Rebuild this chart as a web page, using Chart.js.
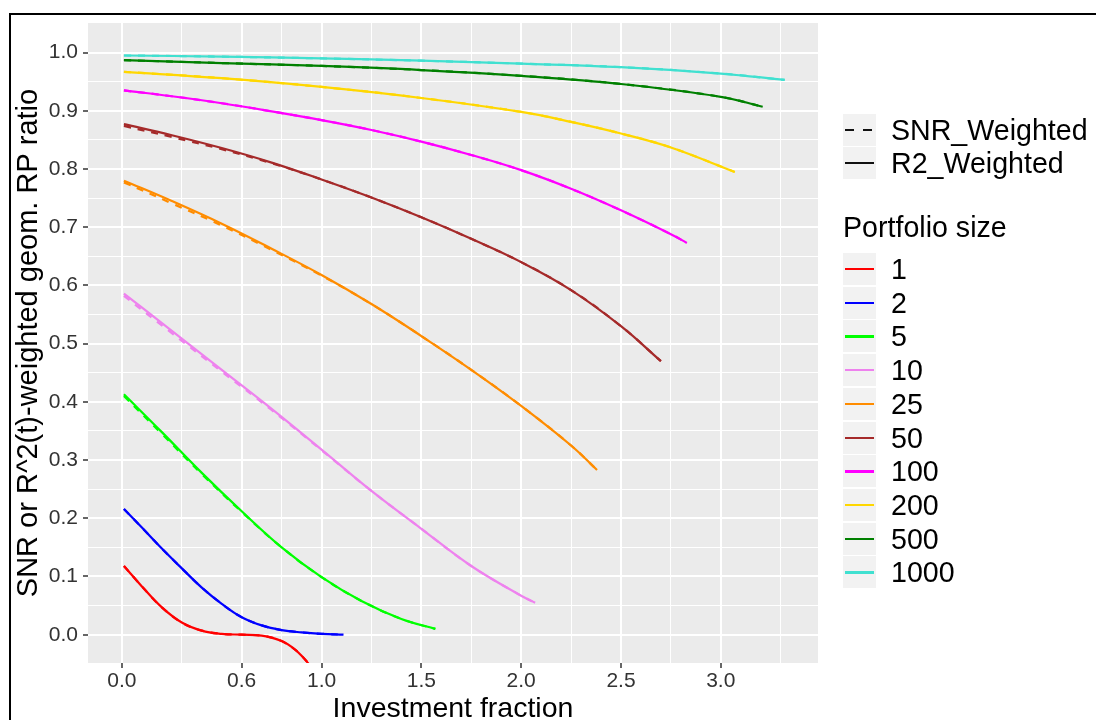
<!DOCTYPE html>
<html>
<head>
<meta charset="utf-8">
<script src="https://cdn.jsdelivr.net/npm/chart.js@4.4.1/dist/chart.umd.min.js"></script>
<style>
  body { margin: 0; background: #fff; overflow: hidden; font-family: "Liberation Sans", Arial, sans-serif; }
  #wrap { position: relative; width: 1096px; height: 720px; }
  #frame { position: absolute; left: 9px; top: 13px; width: 1200px; height: 800px;
           border-left: 2px solid #000; border-top: 2px solid #000; pointer-events: none; }
  .key { position: absolute; left: 843px; width: 33px; height: 32px; background: #F2F2F2; }
  .key .ln { position: absolute; left: 2px; width: 29px; top: 15px; height: 2.4px; }
  .lab { position: absolute; left: 891px; font-size: 28.6px; line-height: 32px; color: #000; white-space: nowrap; }
  #ltitle { position: absolute; left: 843px; top: 211px; font-size: 28.6px; line-height: 32px; color: #000; }
</style>
</head>
<body>
<div id="wrap">
  <canvas id="chart" width="1096" height="720"></canvas>
  <div id="legend"></div>
  <div id="frame"></div>
</div>
<script>
// portfolio sizes and colours
const portfolioSizes = ["1", "2", "5", "10", "25", "50", "100", "200", "500", "1000"];
const sizeColors = ["#FF0000", "#0000FF", "#00FF00", "#EE82EE", "#FF8C00",
                    "#A52A2A", "#FF00FF", "#FFD700", "#008000", "#40E0D0"];
const weightTypes = ["SNR_Weighted", "R2_Weighted"];

// axis breaks
const xMajorTicks = [0, 0.6, 1.0, 1.5, 2.0, 2.5, 3.0];
const xMinorTicks = [0.3, 0.8, 1.25, 1.75, 2.25, 2.75, 3.3];
const yMajorTicks = [0, 0.1, 0.2, 0.3, 0.4, 0.5, 0.6, 0.7, 0.8, 0.9, 1.0];
const yMinorTicks = [0.05, 0.15, 0.25, 0.35, 0.45, 0.55, 0.65, 0.75, 0.85, 0.95];

// investment fraction (x) per portfolio size
const frac1 = [0.01, 0.1, 0.2, 0.3, 0.4, 0.5, 0.6, 0.7, 0.75, 0.8, 0.85, 0.9, 0.95, 1.0];
const frac2 = [0.01, 0.1, 0.2, 0.3, 0.4, 0.5, 0.6, 0.7, 0.8, 0.9, 1.0, 1.11];
const frac5 = [0.01, 0.2, 0.4, 0.6, 0.8, 1.0, 1.2, 1.4, 1.57];
const frac10 = [0.01, 0.25, 0.5, 0.75, 1.0, 1.25, 1.5, 1.75, 2.0, 2.07];
const frac25 = [0.01, 0.25, 0.5, 0.75, 1.0, 1.25, 1.5, 1.75, 2.0, 2.25, 2.38];
const frac50 = [0.01, 0.25, 0.5, 0.75, 1.0, 1.25, 1.5, 1.75, 2.0, 2.25, 2.5, 2.7];
const frac100 = [0.01, 0.25, 0.5, 0.75, 1.0, 1.25, 1.5, 1.75, 2.0, 2.25, 2.5, 2.75, 2.83];
const frac200 = [0.01, 0.5, 1.0, 1.5, 2.0, 2.25, 2.5, 2.75, 3.07];
const frac500 = [0.01, 0.5, 1.0, 1.5, 2.0, 2.5, 3.0, 3.21];
const frac1000 = [0.01, 0.5, 1.0, 1.5, 2.0, 2.5, 3.0, 3.32];

// R^2(t)-weighted ratio
const r2_1 = [0.118, 0.083, 0.047, 0.021, 0.007, 0.0015, 0.0, -0.0015, -0.005, -0.011, -0.021, -0.036, -0.057, -0.085];
const r2_2 = [0.216, 0.184, 0.148, 0.114, 0.081, 0.053, 0.030, 0.016, 0.008, 0.004, 0.0015, 0.0];
const r2_5 = [0.413, 0.348, 0.278, 0.212, 0.150, 0.099, 0.058, 0.027, 0.010];
const r2_10 = [0.586, 0.522, 0.455, 0.388, 0.318, 0.247, 0.182, 0.118, 0.067, 0.055];
const r2_25 = [0.780, 0.745, 0.706, 0.663, 0.618, 0.568, 0.513, 0.455, 0.393, 0.325, 0.283];
const r2_50 = [0.877, 0.858, 0.836, 0.811, 0.782, 0.751, 0.717, 0.680, 0.640, 0.592, 0.530, 0.470];
const r2_100 = [0.935, 0.925, 0.913, 0.899, 0.884, 0.867, 0.847, 0.824, 0.798, 0.766, 0.729, 0.688, 0.673];
const r2_200 = [0.967, 0.956, 0.941, 0.922, 0.898, 0.881, 0.861, 0.837, 0.795];
const r2_500 = [0.987, 0.982, 0.977, 0.970, 0.960, 0.946, 0.924, 0.907];
const r2_1000 = [0.995, 0.993, 0.990, 0.986, 0.981, 0.975, 0.964, 0.953];

// SNR-weighted ratio (almost on top of the R2 curves)
const snr_1 = [0.118, 0.083, 0.047, 0.021, 0.007, 0.0015, 0.0, -0.0015, -0.005, -0.011, -0.021, -0.036, -0.057, -0.085];
const snr_2 = [0.216, 0.184, 0.148, 0.114, 0.081, 0.053, 0.030, 0.016, 0.008, 0.004, 0.0015, 0.0];
const snr_5 = [0.410, 0.345, 0.276, 0.211, 0.150, 0.099, 0.058, 0.027, 0.010];
const snr_10 = [0.582, 0.518, 0.452, 0.386, 0.317, 0.247, 0.182, 0.118, 0.067, 0.055];
const snr_25 = [0.777, 0.741, 0.703, 0.661, 0.617, 0.568, 0.513, 0.455, 0.393, 0.325, 0.283];
const snr_50 = [0.874, 0.855, 0.834, 0.810, 0.782, 0.751, 0.717, 0.680, 0.640, 0.592, 0.530, 0.470];
const snr_100 = [0.935, 0.925, 0.913, 0.899, 0.884, 0.867, 0.847, 0.824, 0.798, 0.766, 0.729, 0.688, 0.673];
const snr_200 = [0.967, 0.956, 0.941, 0.922, 0.898, 0.881, 0.861, 0.837, 0.795];
const snr_500 = [0.987, 0.982, 0.977, 0.970, 0.960, 0.946, 0.924, 0.907];
const snr_1000 = [0.995, 0.993, 0.990, 0.986, 0.981, 0.975, 0.964, 0.953];

const fractions = [frac1, frac2, frac5, frac10, frac25, frac50, frac100, frac200, frac500, frac1000];
const r2Values = [r2_1, r2_2, r2_5, r2_10, r2_25, r2_50, r2_100, r2_200, r2_500, r2_1000];
const snrValues = [snr_1, snr_2, snr_5, snr_10, snr_25, snr_50, snr_100, snr_200, snr_500, snr_1000];

const toPoints = (xs, ys) => xs.map((x, i) => ({ x: x, y: ys[i] }));

// dashed SNR lines first, solid R2 lines on top
const datasets = [];
portfolioSizes.forEach((size, i) => {
  datasets.push({
    label: size + " " + weightTypes[0],
    data: toPoints(fractions[i], snrValues[i]),
    borderColor: sizeColors[i],
    borderDash: [7, 7],
  });
});
portfolioSizes.forEach((size, i) => {
  datasets.push({
    label: size + " " + weightTypes[1],
    data: toPoints(fractions[i], r2Values[i]),
    borderColor: sizeColors[i],
  });
});

// grey panel like ggplot
const panelBackground = {
  id: "panelBackground",
  beforeDraw(chart) {
    const { ctx, chartArea } = chart;
    ctx.save();
    ctx.fillStyle = "#EBEBEB";
    ctx.fillRect(chartArea.left, chartArea.top, chartArea.right - chartArea.left, chartArea.bottom - chartArea.top);
    ctx.restore();
  },
};

Chart.defaults.font.family = '"Liberation Sans", Arial, sans-serif';

const xGrid = [...xMajorTicks, ...xMinorTicks].sort((a, b) => a - b);
const yGrid = [...yMajorTicks, ...yMinorTicks].sort((a, b) => a - b);

new Chart(document.getElementById("chart"), {
  type: "line",
  data: { datasets },
  options: {
    responsive: false,
    animation: false,
    layout: { padding: { left: 0, top: 23, right: 278, bottom: 0 } },
    plugins: { legend: { display: false }, tooltip: { enabled: false } },
    elements: {
      point: { radius: 0 },
      line: { borderWidth: 2.2, tension: 0.4, fill: false },
    },
    scales: {
      x: {
        type: "linear",
        min: -0.17,
        max: 3.487,
        afterBuildTicks: (scale) => { scale.ticks = xGrid.map((v) => ({ value: v })); },
        afterFit: (scale) => { scale.height = 57; },
        ticks: {
          autoSkip: false,
          maxRotation: 0,
          padding: 1,
          color: "#333",
          font: { size: 21 },
          callback: (v) => (xMajorTicks.includes(v) ? v.toFixed(1) : ""),
        },
        grid: {
          color: "#FFFFFF",
          lineWidth: (c) => (xMajorTicks.includes(c.tick && c.tick.value) ? 2 : 1),
          tickLength: 5,
          tickWidth: 1.5,
          tickColor: (c) => (xMajorTicks.includes(c.tick && c.tick.value) ? "#333" : "rgba(0,0,0,0)"),
        },
        border: { display: false },
        title: {
          display: true,
          text: "Investment fraction",
          color: "#000",
          font: { size: 28.5, lineHeight: 0.75 },
          padding: 0,
        },
      },
      y: {
        type: "linear",
        min: -0.0486,
        max: 1.0508,
        afterBuildTicks: (scale) => { scale.ticks = yGrid.map((v) => ({ value: v })); },
        afterFit: (scale) => { scale.width = 88; },
        ticks: {
          autoSkip: false,
          padding: 5,
          color: "#333",
          font: { size: 21 },
          callback: (v) => (yMajorTicks.includes(v) ? v.toFixed(1) : ""),
        },
        grid: {
          color: "#FFFFFF",
          lineWidth: (c) => (yMajorTicks.includes(c.tick && c.tick.value) ? 2 : 1),
          tickLength: 5,
          tickWidth: 1.5,
          tickColor: (c) => (yMajorTicks.includes(c.tick && c.tick.value) ? "#333" : "rgba(0,0,0,0)"),
        },
        border: { display: false },
        title: {
          display: true,
          text: "SNR or R^2(t)-weighted geom. RP ratio",
          color: "#000",
          font: { size: 29, lineHeight: 0.75 },
          padding: { top: 18, bottom: 0 },
        },
      },
    },
  },
  plugins: [panelBackground],
});

// ggplot-style legends
const legend = document.getElementById("legend");
const addKey = (centerY, inner) => {
  const key = document.createElement("div");
  key.className = "key";
  key.style.top = (centerY - 16) + "px";
  key.innerHTML = inner;
  legend.appendChild(key);
};
const addLabel = (centerY, text) => {
  const lab = document.createElement("div");
  lab.className = "lab";
  lab.style.top = (centerY - 16) + "px";
  lab.textContent = text;
  legend.appendChild(lab);
};

// linetype legend
const typeCenters = [130, 163];
addKey(typeCenters[0],
  '<div class="ln" style="background:#111;left:2px;width:9px"></div>' +
  '<div class="ln" style="background:#111;left:20px;width:9px"></div>');
addLabel(typeCenters[0], weightTypes[0]);
addKey(typeCenters[1], '<div class="ln" style="background:#111"></div>');
addLabel(typeCenters[1], weightTypes[1]);

// colour legend
const title = document.createElement("div");
title.id = "ltitle";
title.textContent = "Portfolio size";
legend.appendChild(title);
portfolioSizes.forEach((size, i) => {
  const cy = 269 + 33.7 * i;
  addKey(cy, '<div class="ln" style="background:' + sizeColors[i] + '"></div>');
  addLabel(cy, size);
});
</script>
</body>
</html>
